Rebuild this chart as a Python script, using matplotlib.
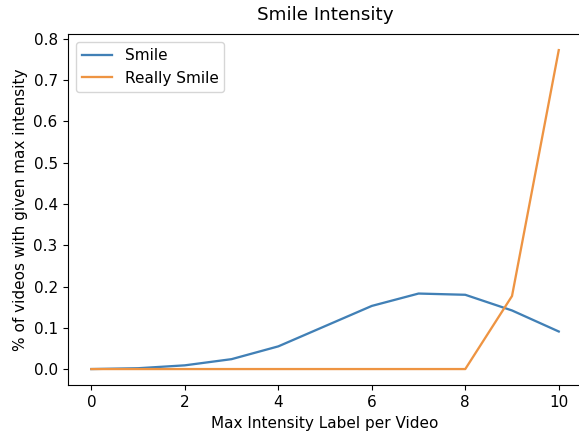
import matplotlib
matplotlib.use("Agg")
import matplotlib.pyplot as plt

intensity = list(range(11))
smile = [0.0, 0.002, 0.009, 0.024, 0.055, 0.104, 0.153, 0.183, 0.180, 0.142, 0.091]
really_smile = [0.0, 0.0, 0.0, 0.0, 0.0, 0.0, 0.0, 0.0, 0.0, 0.177, 0.773]

# screenshot is a ~1.1x scaled notebook figure
plt.rcParams["font.size"] = 11
plt.rcParams["lines.linewidth"] = 1.65
plt.rcParams["xtick.major.size"] = 3.9
plt.rcParams["ytick.major.size"] = 3.9

fig = plt.figure(figsize=(5.79, 4.38), dpi=100)
# right edge of the axes runs off the image, like the cropped screenshot
ax = fig.add_axes([0.1174, 0.121, 0.888, 0.801])

ax.plot(intensity, smile, color="#4180b6", label="Smile")
ax.plot(intensity, really_smile, color="#ee9442", label="Really Smile")

ax.set_title("Smile Intensity", pad=10)
ax.set_xlabel("Max Intensity Label per Video")
ax.set_ylabel("% of videos with given max intensity")
ax.set_xticks([0, 2, 4, 6, 8, 10])
ax.legend(loc="upper left")

fig.savefig("out.png")
